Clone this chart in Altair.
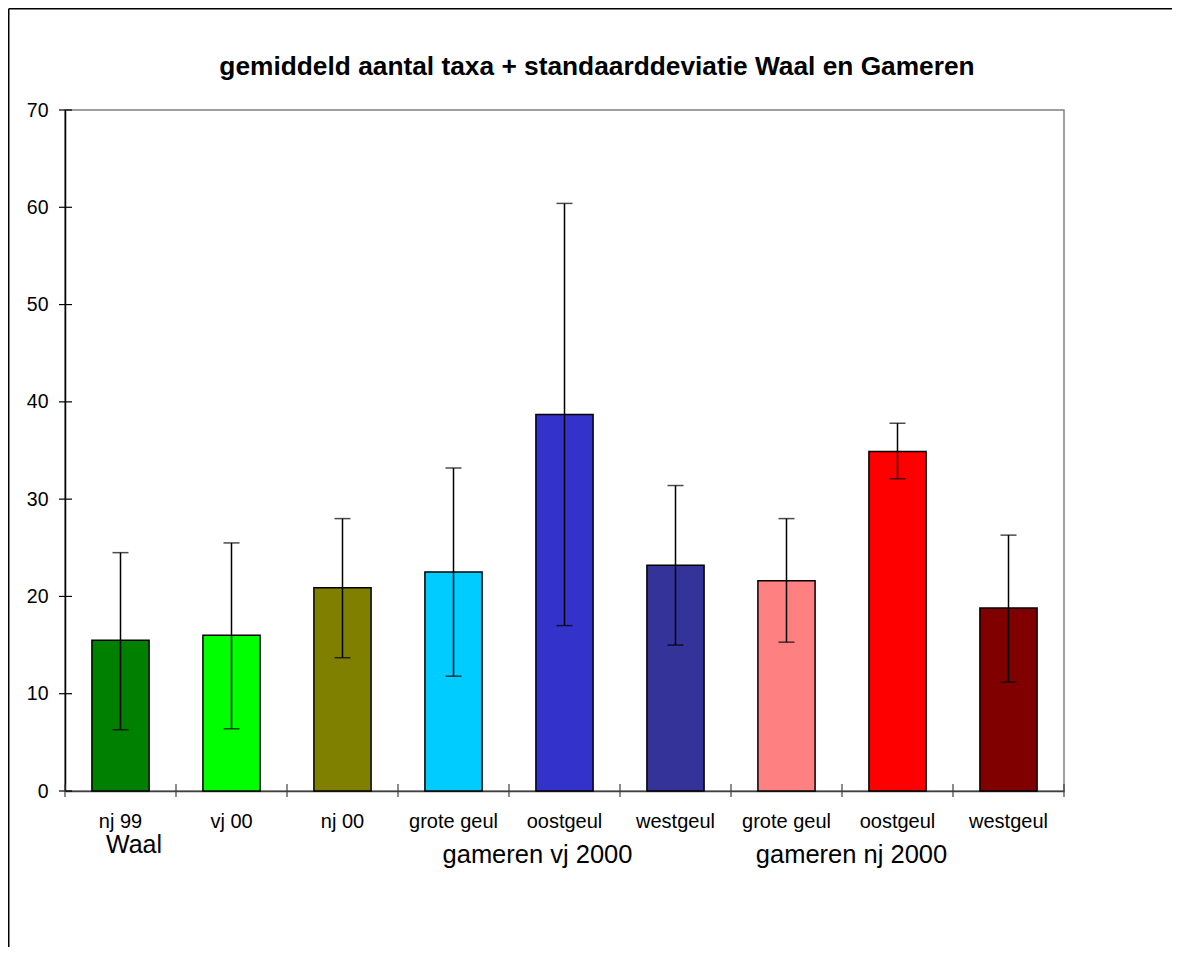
import altair as alt
import pandas as pd

# ---- data ----
keys = ["nj 99|Waal", "vj 00|Waal", "nj 00|Waal",
        "grote geul|vj", "oostgeul|vj", "westgeul|vj",
        "grote geul|nj", "oostgeul|nj", "westgeul|nj"]
means = [15.5, 16.0, 20.9, 22.5, 38.7, 23.2, 21.6, 34.9, 18.8]
lows = [6.3, 6.4, 13.7, 11.8, 17.0, 15.0, 15.3, 32.1, 11.2]
highs = [24.5, 25.5, 28.0, 33.2, 60.4, 31.4, 28.0, 37.8, 26.3]
colors = ["#008000", "#00FF00", "#808000", "#00CCFF", "#3333CC",
          "#333399", "#FF8080", "#FF0000", "#800000"]
yticks = [0, 10, 20, 30, 40, 50, 60, 70]
group_labels = ["Waal", "gameren vj 2000", "gameren nj 2000"]
group_anchor = ["nj 99|Waal", "oostgeul|vj", "oostgeul|nj"]
title_text = "gemiddeld aantal taxa + standaarddeviatie Waal en Gameren"

FONT = "Liberation Sans"
W, H = 999, 681

df = pd.DataFrame({"key": keys, "mean": means, "low": lows, "high": highs})
tick_df = pd.DataFrame({"v": yticks})

xscale = alt.Scale(domain=keys, paddingInner=0, paddingOuter=0)
yscale = alt.Scale(domain=[0, 70], nice=False, zero=True)

x_enc = alt.X("key:N", sort=keys, scale=xscale,
              axis=alt.Axis(title=None, labelExpr="split(datum.label, '|')[0]",
                            ticks=False, tickSize=0, labelAngle=0,
                            labelFontSize=20, labelFont=FONT, labelColor="black",
                            labelBaseline="alphabetic", labelPadding=36,
                            labelOverlap=False,
                            domainColor="#404040", domainWidth=1.5))
y_enc = alt.Y("mean:Q", scale=yscale,
              axis=alt.Axis(title=None, values=yticks, grid=False, ticks=False,
                            tickSize=0, labelFontSize=19.5, labelFont=FONT,
                            labelColor="black", labelPadding=17,
                            domainColor="black", domainWidth=1.5))

base = alt.Chart(df)

bars = base.mark_bar(width=alt.RelativeBandSize(0.515), stroke="black",
                     strokeWidth=1.5).encode(
    x=x_enc, y=y_enc,
    color=alt.Color("key:N", scale=alt.Scale(domain=keys, range=colors), legend=None),
)

err = base.mark_rule(color="black", strokeWidth=1.5).encode(
    x=alt.X("key:N", sort=keys), y=alt.Y("low:Q"), y2="high:Q")
cap_lo = base.mark_tick(color="black", thickness=1.5, size=16,
                        orient="horizontal").encode(
    x=alt.X("key:N", sort=keys), y=alt.Y("low:Q"))
cap_hi = base.mark_tick(color="black", thickness=1.5, size=16,
                        orient="horizontal").encode(
    x=alt.X("key:N", sort=keys), y=alt.Y("high:Q"))

ytick_rules = alt.Chart(tick_df).mark_rule(color="black", strokeWidth=1.2).encode(
    y=alt.Y("v:Q"), x=alt.value(-6), x2=alt.value(7))

xtick_rules = base.mark_rule(color="#404040", strokeWidth=1.2).encode(
    x=alt.X("key:N", sort=keys, bandPosition=0), y=alt.value(674), y2=alt.value(687))
xtick_end = alt.Chart(pd.DataFrame({"a": [0]})).mark_rule(
    color="#404040", strokeWidth=1.2).encode(
    x=alt.value(W), y=alt.value(674), y2=alt.value(687))

gdf = pd.DataFrame({"key": group_anchor, "label": group_labels})
g_waal = alt.Chart(gdf.iloc[[0]]).mark_text(
    fontSize=25, font=FONT, color="black", baseline="alphabetic", dx=13.5).encode(
    x=alt.X("key:N", sort=keys), y=alt.value(H + 62), text="label:N")
g_vj = alt.Chart(gdf.iloc[[1]]).mark_text(
    fontSize=25.5, font=FONT, color="black", baseline="alphabetic", dx=-27).encode(
    x=alt.X("key:N", sort=keys), y=alt.value(H + 72), text="label:N")
g_nj = alt.Chart(gdf.iloc[[2]]).mark_text(
    fontSize=25.5, font=FONT, color="black", baseline="alphabetic", dx=-46).encode(
    x=alt.X("key:N", sort=keys), y=alt.value(H + 72), text="label:N")

title = alt.Chart(pd.DataFrame({"t": [title_text]})).mark_text(
    fontSize=26.3, font=FONT, fontWeight="bold", color="black",
    baseline="alphabetic", align="center").encode(
    x=alt.value(532), y=alt.value(-35), text="t:N")

# outer chart-area border (left and top edges; right/bottom lie outside the picture)
edge = pd.DataFrame({"a": [0]})
border_left = alt.Chart(edge).mark_rule(color="black", strokeWidth=1.5).encode(
    x=alt.value(-56.25), y=alt.value(-101.25), y2=alt.value(900))
border_top = alt.Chart(edge).mark_rule(color="black", strokeWidth=1.5).encode(
    y=alt.value(-101.25), x=alt.value(-56.25), x2=alt.value(1200))

chart = alt.layer(
    border_left, border_top, bars, err, cap_lo, cap_hi, ytick_rules, xtick_rules,
    xtick_end, g_waal, g_vj, g_nj, title
).properties(
    width=W, height=H,
    autosize=alt.AutoSizeParams(type="none"),
    padding={"left": 57, "top": 102, "right": 108, "bottom": 156},
).configure(
    font=FONT, background="white"
).configure_view(
    stroke="#808080", strokeWidth=1.5
)

chart.save("out.html", embed_options={"renderer": "svg", "actions": False})
